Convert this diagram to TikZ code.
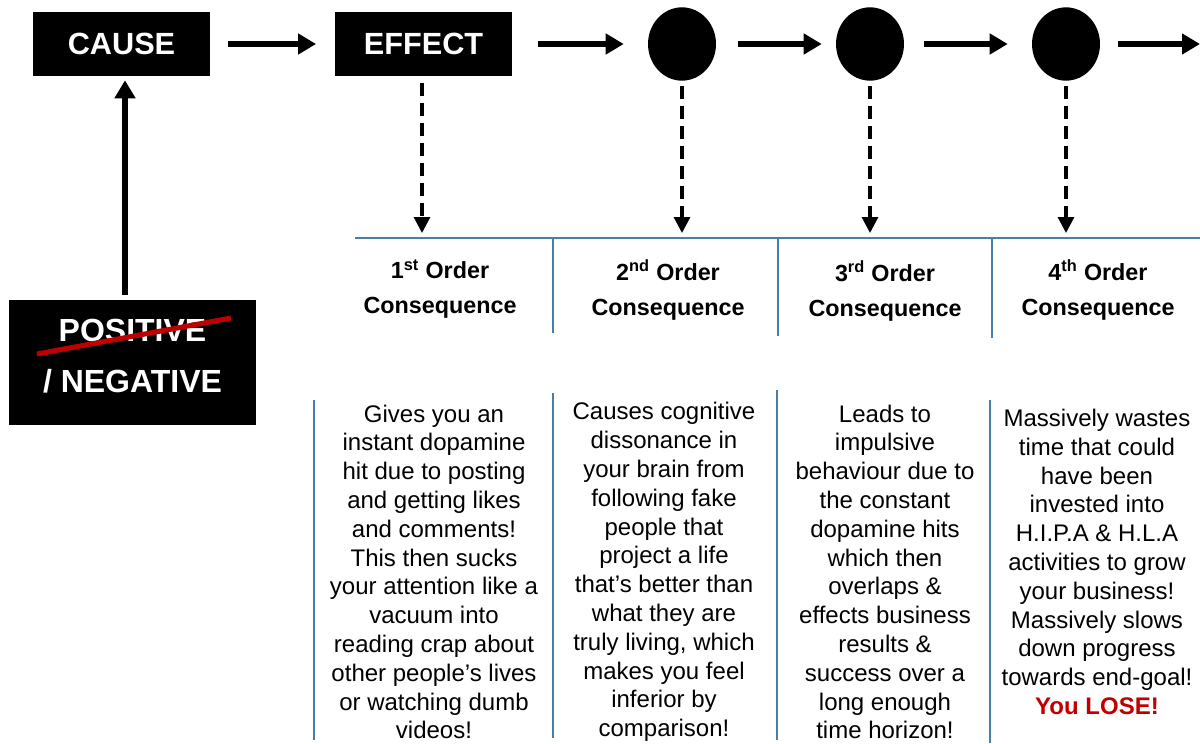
\documentclass[tikz,border=0pt]{standalone}
\usepackage{fontspec}
\setmainfont{Liberation Sans}
\usetikzlibrary{arrows.meta,shapes.geometric}
\definecolor{rulecol}{RGB}{70,128,168}
\definecolor{losered}{RGB}{192,0,0}

\begin{document}
\begin{tikzpicture}[x=0.75pt,y=-0.75pt,
  blackbox/.style={fill=black,text=white,inner sep=0pt,
    font=\bfseries\fontsize{23}{27}\selectfont,
    minimum width=132.75pt,minimum height=48pt},
  dot/.style={ellipse,fill=black,inner sep=0pt,minimum width=51pt,minimum height=55pt},
  bigarrow/.style={line width=4pt,-{Triangle[length=13.5pt,width=15pt]}},
  droparrow/.style={line width=2.3pt,dash pattern=on 9.5pt off 5.5pt,
    -{Triangle[length=12pt,width=12pt]}},
  rulev/.style={rulecol,line width=1.1pt},
  header/.style={align=center,inner sep=0pt,
    font=\bfseries\fontsize{17.5}{26.25}\selectfont},
  body/.style={align=center,inner sep=0pt,
    font=\fontsize{18}{21.6}\selectfont}]
\useasboundingbox (0,0) rectangle (1200,743);

% top chain
\node[blackbox] (cause) at (121.5,44) {CAUSE};
\node[blackbox] (effect) at (423.5,44) {EFFECT};
\node[dot] (c1) at (682,44) {};
\node[dot] (c2) at (870,44) {};
\node[dot] (c3) at (1066,44) {};
\coordinate (tail) at (1200,44);

\draw[bigarrow,shorten <=13.5pt,shorten >=14pt] (cause) -- (effect);
\draw[bigarrow,shorten <=19.5pt,shorten >=18pt] (effect) -- (c1);
\draw[bigarrow,shorten <=16.5pt,shorten >=10.5pt] (c1) -- (c2);
\draw[bigarrow,shorten <=15pt,shorten >=18pt] (c2) -- (c3);
\draw[bigarrow,shorten <=13.5pt] (c3) -- (tail);

% positive / negative box
\node[fill=black,text=white,inner sep=0pt,minimum width=185pt,minimum height=93.75pt,
  align=center,font=\bfseries\fontsize{24}{38}\selectfont] (posneg) at (132.5,362.5)
  {};
\node[align=center,text=white,inner sep=0pt,font=\bfseries\fontsize{24}{38}\selectfont]
  (posnegtext) at (132.5,356) {POSITIVE\\/ NEGATIVE};
\draw[losered,line width=3.75pt] (37,354) -- (231,318);
\coordinate (upx) at (125,0);
\draw[bigarrow,shorten <=3.75pt,shorten >=3pt] (posneg.north -| upx) -- (cause.south -| upx);

% dashed drops
\coordinate (d1) at (422,233);
\coordinate (d2) at (682,233);
\coordinate (d3) at (870,233);
\coordinate (d4) at (1066,233);
\draw[droparrow,shorten <=5pt] (effect.south -| d1) -- (d1);
\draw[droparrow,shorten <=4pt] (c1) -- (d2);
\draw[droparrow,shorten <=4pt] (c2) -- (d3);
\draw[droparrow,shorten <=4pt] (c3) -- (d4);

% table rules
\draw[rulecol,line width=1.5pt] (355,238) -- (1200,238);
\draw[rulev] (553,238) -- (553,333);
\draw[rulev] (778,238) -- (778,336);
\draw[rulev] (992,238) -- (992,338);
\draw[rulev] (314,400) -- (314,740);
\draw[rulev] (553,393) -- (553,738);
\draw[rulev] (777,390) -- (777,740);
\draw[rulev] (990,400) -- (990,743);

% headers
\node[header] (h1) at (440,289) {1\textsuperscript{st} Order\\Consequence};
\node[header] (h2) at (668,290) {2\textsuperscript{nd} Order\\Consequence};
\node[header] (h3) at (885,291) {3\textsuperscript{rd} Order\\Consequence};
\node[header] (h4) at (1098,290) {4\textsuperscript{th} Order\\Consequence};

% descriptions
\node[body] (t1) at (434,572) {Gives you an\\instant dopamine\\hit due to posting\\and getting likes\\and comments!\\This then sucks\\your attention like a\\vacuum into\\reading crap about\\other people’s lives\\or watching dumb\\videos!};
\node[body] (t2) at (664,572) {Causes cognitive\\dissonance in\\your brain from\\following fake\\people that\\project a life\\that’s better than\\what they are\\truly living, which\\makes you feel\\inferior by\\comparison!};
\node[body] (t3) at (885,572) {Leads to\\impulsive\\behaviour due to\\the constant\\dopamine hits\\which then\\overlaps \&\\effects business\\results \&\\success over a\\long enough\\time horizon!};
\node[body] (t4) at (1097,562) {Massively wastes\\time that could\\have been\\invested into\\H.I.P.A \& H.L.A\\activities to grow\\your business!\\Massively slows\\down progress\\towards end-goal!\\\textcolor{losered}{\bfseries You LOSE!}};
\end{tikzpicture}
\end{document}
